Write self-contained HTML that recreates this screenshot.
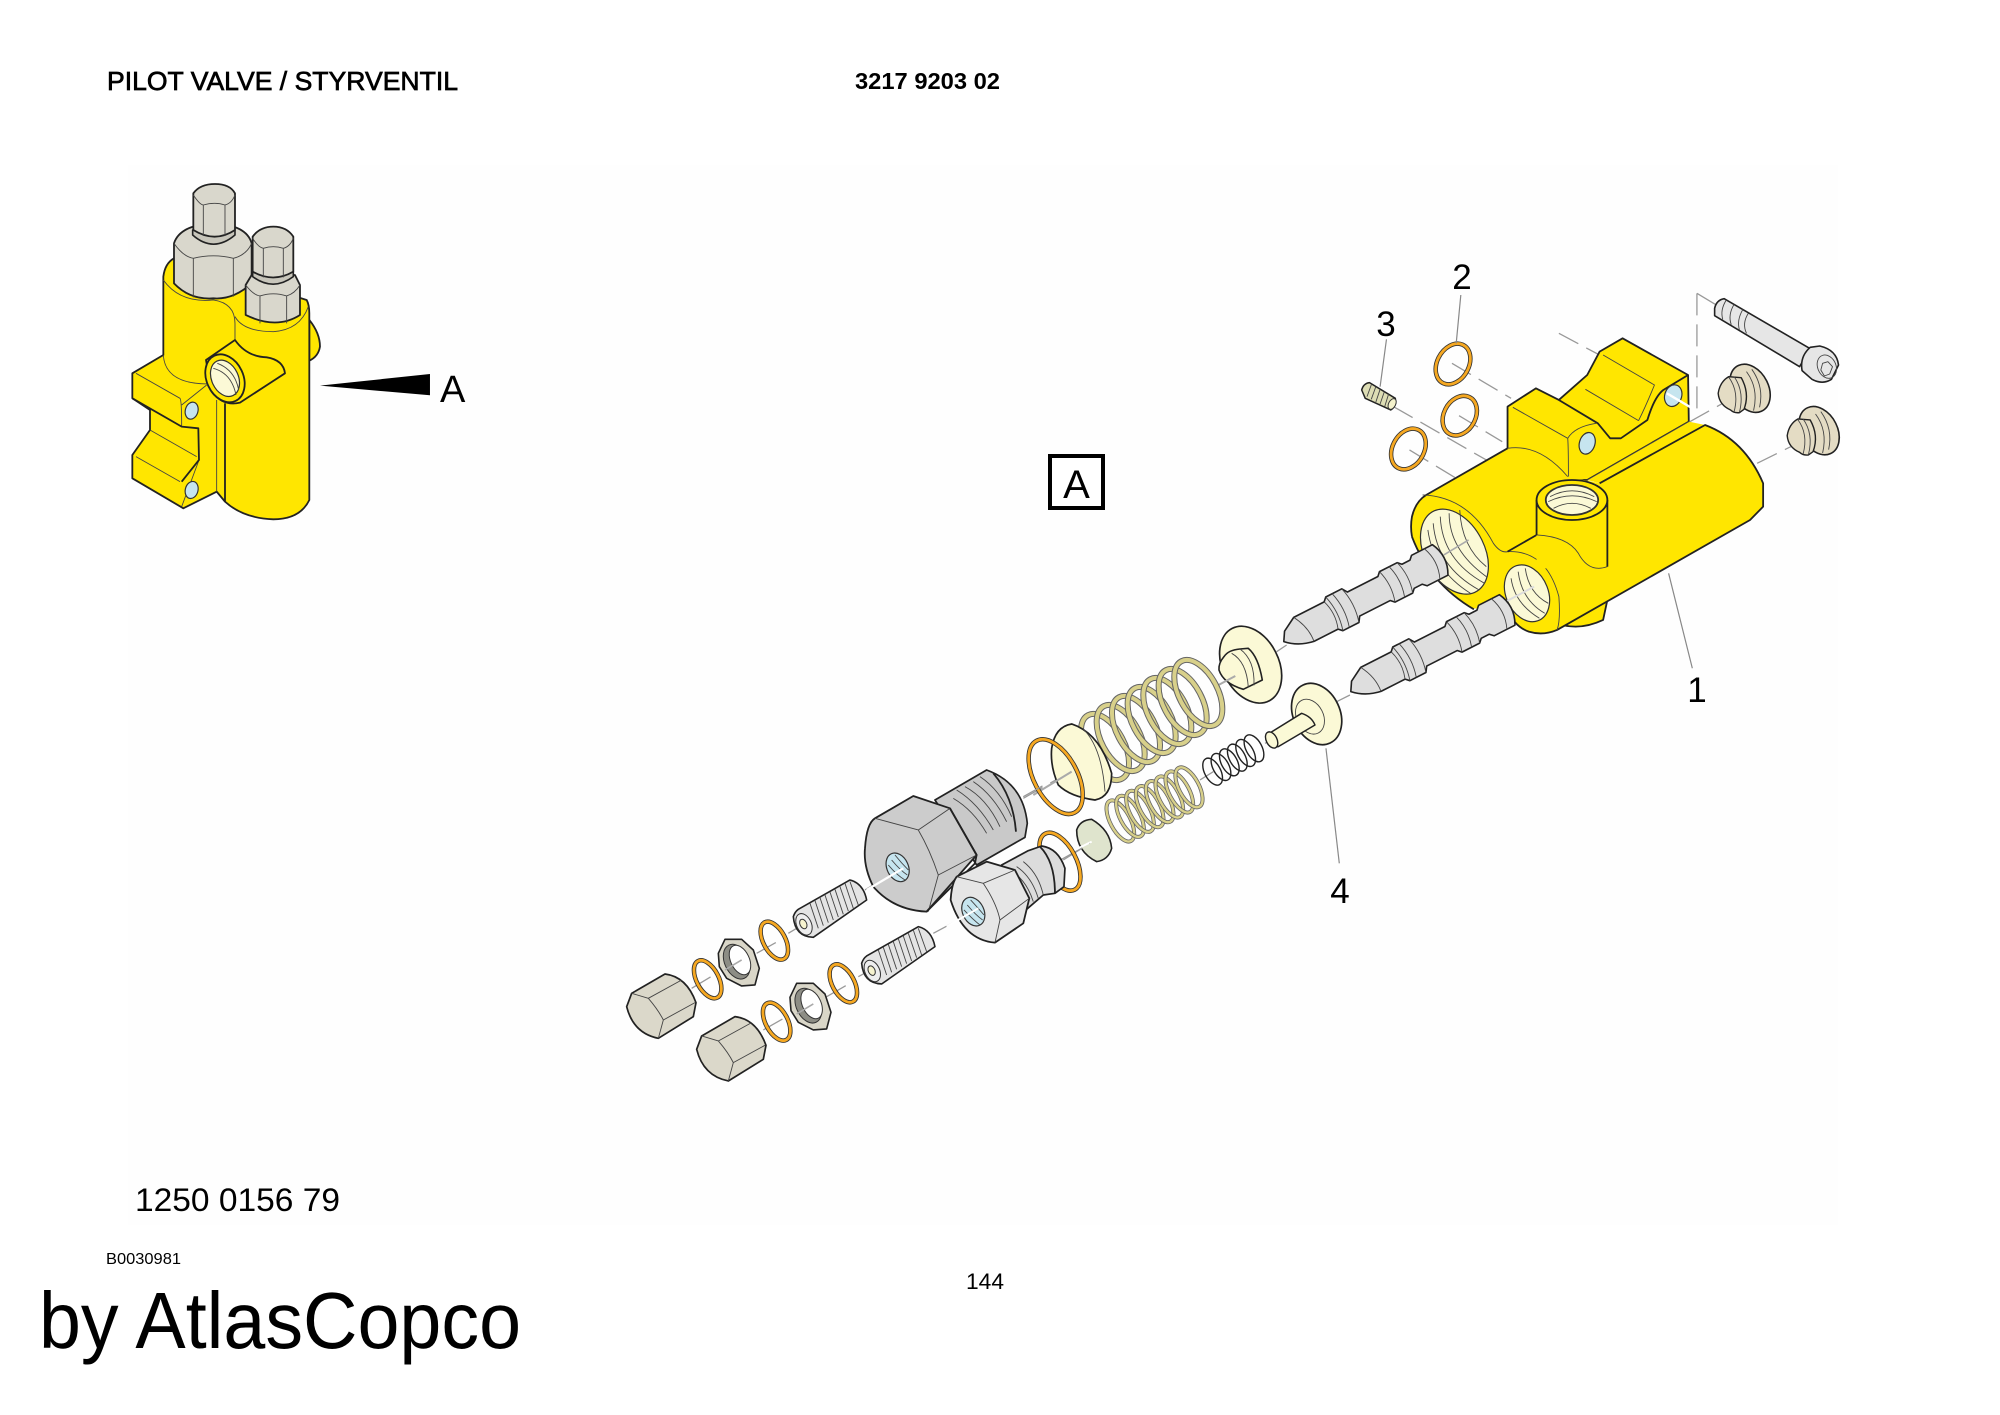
<!DOCTYPE html>
<html><head><meta charset="utf-8"><style>
html,body{margin:0;padding:0;background:#fff;width:2000px;height:1415px;overflow:hidden}
svg{display:block}
text{font-family:"Liberation Sans",sans-serif;fill:#000}
.k *{vector-effect:non-scaling-stroke;stroke-linejoin:round}
.o{fill:none;stroke:#222;stroke-width:1.8}
.t{fill:none;stroke:#444;stroke-width:.9}
.d{fill:none;stroke:#999;stroke-width:1.3;stroke-dasharray:22 9}
.l{fill:none;stroke:#888;stroke-width:1.2}
.y{fill:#ffe600;stroke:#222;stroke-width:1.8}
.c{fill:#fbf9d6;stroke:#333;stroke-width:1.2}
.h{fill:#c6e5ef;stroke:#333;stroke-width:1.2}
.rb{fill:none;stroke:#333;stroke-width:4.5}
.ro{fill:none;stroke:#f6a821;stroke-width:2.8}
.sb{fill:none;stroke:#666;stroke-width:6}
.sc{fill:none;stroke:#d8d08a;stroke-width:4}
.sb2{fill:none;stroke:#666;stroke-width:4}
.sc2{fill:none;stroke:#d8d08a;stroke-width:2.4}
</style></head><body>
<svg width="2000" height="1415" viewBox="0 0 2000 1415" xmlns="http://www.w3.org/2000/svg">
<rect width="2000" height="1415" fill="#fff"/>
<rect x="128" y="165" width="1710" height="1060" fill="#fefefe"/>

<!-- INSET -->
<g class="k" transform="translate(100 160) scale(.3333)">
<path class="y" d="M628,480 Q660,520 660,560 Q655,590 628,602Z"/>
<path class="y" d="M190,350 Q195,310 222,295 L620,420 Q628,435 628,460 L628,1020 Q600,1078 520,1078 Q430,1075 375,1025 L350,995 L250,1045 L97,955 L97,885 L150,810 L150,750 L97,715 L97,640 L190,585Z"/>
<path class="t" d="M190,360 Q240,430 340,420 Q405,430 405,490 L405,540"/>
<path class="t" d="M405,470 Q430,515 520,515 Q600,510 625,440"/>
<path class="t" d="M190,585 Q195,670 320,672"/>
<path class="t" d="M108,640 L240,715 Q245,720 245,800 M245,800 L295,805 L297,900 L245,1040 M150,810 L290,890 M108,890 L240,965 M245,735 L320,675 M350,720 L350,995"/>
<path class="o" d="M97,715 L245,800 L295,805 L297,900 L245,965"/>
<path class="o" d="M375,730 L375,1025"/>
<path class="y" d="M318,600 L405,540 Q440,590 500,592 Q550,600 555,640 L420,728 Q370,740 335,695Z"/>
<ellipse class="y" cx="375" cy="655" rx="55" ry="75" transform="rotate(-25 375 655)"/>
<ellipse class="c" cx="375" cy="655" rx="40" ry="57" transform="rotate(-25 375 655)"/>
<path class="t" d="M340,625 Q395,640 408,705 M352,610 Q405,630 416,690"/>
<ellipse class="h" cx="275" cy="752" rx="19" ry="26" transform="rotate(15 275 752)"/>
<ellipse class="h" cx="275" cy="990" rx="19" ry="26" transform="rotate(15 275 990)"/>
<path d="M222,250 Q240,195 340,190 Q440,195 455,250 L455,370 Q400,420 340,415 Q270,420 222,370Z" fill="#d9d7cc" stroke="#222" stroke-width="1.8"/>
<path class="t" d="M222,250 Q250,290 280,295 Q340,280 400,295 Q440,285 455,250 M280,295 L280,412 M400,295 L400,410"/>
<path d="M278,210 L278,225 Q340,280 405,225 L405,210Z" fill="#c8c6bb" stroke="#222" stroke-width="1.6"/>
<path d="M280,100 Q300,72 345,72 Q390,72 405,100 L405,210 Q345,250 280,210Z" fill="#d9d7cc" stroke="#222" stroke-width="1.8"/>
<path class="t" d="M280,105 Q300,135 310,135 Q345,125 375,135 Q395,130 405,105 M310,135 L310,228 M375,135 L375,228"/>
<path d="M437,375 L455,345 L585,345 L600,375 L600,465 Q530,510 437,465Z" fill="#d9d7cc" stroke="#222" stroke-width="1.8"/>
<path class="t" d="M437,375 Q460,405 480,408 Q520,395 560,408 Q585,400 600,375 M480,408 L480,490 M560,408 L560,490"/>
<path d="M458,335 L458,350 Q520,395 580,350 L580,335Z" fill="#c8c6bb" stroke="#222" stroke-width="1.6"/>
<path d="M458,230 Q480,200 520,200 Q560,200 580,230 L580,335 Q520,370 458,335Z" fill="#d9d7cc" stroke="#222" stroke-width="1.8"/>
<path class="t" d="M458,235 Q475,262 490,265 Q520,255 550,265 Q570,260 580,235 M490,265 L490,352 M550,265 L550,352"/>
<polygon points="660,677 990,642 990,706" fill="#000"/>
</g>

<!-- MAIN BODY -->
<g class="k" transform="translate(1327 250) scale(.354 .3333)">
<path class="d" d="M1045,130 L1045,480 M1045,130 L1100,165 M655,250 L770,315 M353,340 L520,445 M373,497 L495,575 M188,470 L450,630 M233,600 L365,685 M1025,515 L1135,450 M1215,640 L1310,590"/>
<path class="y" d="M510,470 L590,415 L655,450 L735,375 L770,305 L835,265 L1020,375 L1022,515 L735,690 L680,690 L510,600Z"/>
<path class="t" d="M525,472 L680,565 M680,565 Q682,590 682,680 M780,315 L925,405 Q900,470 880,512 M730,418 L880,512"/>
<path class="o" d="M655,450 L765,520 L800,565 L830,565 L905,510 Q925,440 950,420 L1020,375"/>
<path class="t" d="M680,565 Q700,530 760,520"/>
<polygon points="735,690 1022,515 1068,525 770,700" fill="#ffe600"/>
<!-- bump under body -->
<path d="M660,1128 Q720,1140 780,1110 L792,1040 L660,1040Z" fill="#ffe600"/>
<path class="o" d="M665,1125 Q720,1140 780,1110 L792,1050"/>
<!-- main cylinder -->
<path d="M240,800 Q250,755 280,735 L510,595 L680,680 L770,700 L1068,525 Q1180,570 1232,700 L1232,770 L1195,810 L650,1140 Q610,1158 570,1145 Q530,1130 510,1080 L410,1075 Q290,1000 240,860Z" fill="#ffe600"/>
<path d="M510,595 Q600,570 680,680 L510,680Z" fill="#ffe600"/>
<path class="t" d="M1022,515 L735,690"/>
<path class="o" d="M240,860 Q235,830 240,800 Q250,755 280,735 L510,595 M770,700 L1068,525 Q1180,570 1232,700 L1232,770 L1195,810 L650,1140 Q610,1158 570,1145 Q530,1130 510,1080 M415,1078 Q290,1000 240,860"/>
<path class="t" d="M270,735 Q400,740 470,880 Q490,910 510,905 M510,905 Q620,900 655,1040 Q660,1110 650,1140 M510,595 Q600,580 680,680"/>
<path class="o" d="M510,905 L592,855"/>
<rect x="592" y="750" width="200" height="205" fill="#ffe600"/>
<path class="t" d="M592,855 Q680,860 710,910 Q740,970 792,950" />
<path class="o" d="M592,750 L592,855 M792,750 L792,950"/>
<ellipse cx="692" cy="750" rx="100" ry="60" fill="#ffe600" stroke="#222" stroke-width="1.8"/>
<ellipse class="c" cx="692" cy="750" rx="74" ry="45" style="stroke-width:1.8"/>
<path class="t" d="M630,740 Q692,705 755,740 M625,755 Q692,720 762,755 M640,775 Q692,745 745,775"/>
<ellipse class="c" cx="360" cy="905" rx="85" ry="135" transform="rotate(-25 360 905)"/>
<path class="t" d="M300,820 Q310,950 430,1020 M320,800 Q325,930 445,1000 M345,790 Q345,900 450,980 M285,840 Q300,960 405,1030 M375,780 Q380,890 450,950"/>
<ellipse class="c" cx="565" cy="1030" rx="60" ry="88" transform="rotate(-20 565 1030)"/>
<path class="t" d="M520,985 Q530,1060 600,1105 M540,965 Q550,1050 615,1090 M560,955 Q570,1030 625,1060"/>
<ellipse class="h" cx="735" cy="580" rx="22" ry="33" transform="rotate(15 735 580)"/>
<ellipse class="h" cx="978" cy="437" rx="24" ry="33" transform="rotate(15 978 437)"/>
<line x1="960" y1="430" x2="1040" y2="480" stroke="#fff" stroke-width="2.4"/>
<line x1="330" y1="915" x2="400" y2="870" stroke="#aaa" stroke-width="1.6"/>
<line x1="505" y1="1055" x2="585" y2="1010" stroke="#ddd" stroke-width="2"/>
<g>
<ellipse class="rb" cx="356" cy="342" rx="45" ry="64" transform="rotate(25 356 342)"/><ellipse class="ro" cx="356" cy="342" rx="45" ry="64" transform="rotate(25 356 342)"/>
<ellipse class="rb" cx="375" cy="497" rx="45" ry="62" transform="rotate(25 375 497)"/><ellipse class="ro" cx="375" cy="497" rx="45" ry="62" transform="rotate(25 375 497)"/>
<ellipse class="rb" cx="230" cy="597" rx="45" ry="64" transform="rotate(25 230 597)"/><ellipse class="ro" cx="230" cy="597" rx="45" ry="64" transform="rotate(25 230 597)"/>
</g>
<g transform="translate(8 0)">
<path d="M90,420 Q95,400 112,398 L185,445 Q188,470 172,480 L100,445Z" fill="#ddddb4" stroke="#222" stroke-width="1.5"/>
<path class="t" d="M118,402 L105,440 M130,410 L117,448 M142,418 L130,456 M154,425 L142,462 M166,432 L155,470"/>
<ellipse cx="176" cy="462" rx="10" ry="17" fill="#f4f2cc" stroke="#333" transform="rotate(25 176 462)"/>
</g>
<path d="M1095,175 Q1100,150 1122,146 L1365,296 L1335,350 L1095,197Z" fill="#e6e6e6" stroke="#222" stroke-width="1.6"/>
<path class="t" d="M1128,150 Q1110,180 1118,208 M1150,163 Q1132,195 1142,224 M1175,178 Q1157,210 1165,240 M1190,190 Q1172,220 1185,250"/>
<path d="M1365,292 L1392,288 Q1440,300 1445,345 L1425,388 Q1400,405 1370,388 L1342,362 Q1335,320 1365,292Z" fill="#e6e6e6" stroke="#222" stroke-width="1.6"/>
<ellipse class="t" cx="1412" cy="350" rx="26" ry="36" transform="rotate(-20 1412 350)"/>
<polygon class="t" points="1400,340 1415,335 1428,350 1420,372 1405,378 1395,360"/>
<g id="plug">
<ellipse cx="1195" cy="415" rx="52" ry="76" transform="rotate(-25 1195 415)" fill="#e4dcc4" stroke="#222" stroke-width="1.6"/>
<path class="t" d="M1185,365 Q1220,415 1205,482 M1200,358 Q1235,410 1222,472"/>
<path d="M1105,430 Q1110,395 1135,380 L1170,383 Q1195,430 1178,478 L1165,488 Q1150,490 1140,480 Q1108,465 1105,430Z" fill="#e4dcc4" stroke="#222" stroke-width="1.4"/>
<path class="t" d="M1135,382 Q1165,425 1150,485 M1150,380 Q1180,425 1165,487"/>
</g>
<use href="#plug" x="195" y="127"/>
<path class="l" d="M378,135 L365,280 M168,268 L150,410 M965,970 L1032,1255"/>
</g>

<!-- SPOOLS -->
<g class="k" transform="translate(1283 640) rotate(-27) scale(.9)">
<g id="spool">
<path d="M0,2 L6,-8 L22,-17 L60,-17 L64,-21 L84,-21 L88,-15 L126,-15 L130,-19 L152,-19 L156,-15 L166,-15 L170,-19 L196,-19 Q206,0 196,19 L170,19 L166,15 L156,15 L152,19 L130,19 L126,15 L88,15 L84,21 L64,21 L60,17 L30,17 Q12,14 0,2Z" fill="#dedede" stroke="#222" stroke-width="1.6"/>
<path class="t" d="M22,-17 Q32,0 30,17 M60,-17 Q66,0 60,17 M64,-21 Q70,0 64,21 M72,-21 Q78,0 72,21 M84,-21 Q90,0 84,21 M130,-19 Q136,0 130,19 M142,-19 Q148,0 142,19 M152,-19 Q158,0 152,19 M186,-19 Q194,0 186,19"/>
</g>
</g>
<g class="k" transform="translate(1350 690) rotate(-27) scale(.9)"><use href="#spool"/></g>

<!-- MIDDLE PARTS -->
<g class="k" transform="translate(1000 600) scale(.3333)">
<path class="d" d="M830,155 L860,135 M1010,305 L1050,285 M650,258 L710,225 M600,540 L640,515 M70,595 L220,510 M185,778 L280,725 M795,430 L815,420"/>
<!-- upper retainer -->
<ellipse class="c" cx="752" cy="194" rx="84" ry="122" transform="rotate(-27 752 194)" style="stroke:#222;stroke-width:1.7"/>
<path class="c" d="M672,170 Q685,150 720,147 L745,145 Q775,170 787,240 L730,268 Q670,250 657,210 Q655,190 672,170Z" style="stroke:#222;stroke-width:1.6"/>
<path class="t" d="M695,160 Q740,185 745,262 M720,147 Q765,180 762,256"/>
<line x1="650" y1="258" x2="706" y2="228" stroke="#aaa" stroke-width="2"/>
<!-- big spring -->
<g id="bigspring">
<ellipse class="sb" cx="315" cy="441" rx="58" ry="108" transform="rotate(-28 315 441)"/><ellipse class="sc" cx="315" cy="441" rx="58" ry="108" transform="rotate(-28 315 441)"/>
<ellipse class="sb" cx="362" cy="414" rx="58" ry="108" transform="rotate(-28 362 414)"/><ellipse class="sc" cx="362" cy="414" rx="58" ry="108" transform="rotate(-28 362 414)"/>
<ellipse class="sb" cx="408" cy="387" rx="58" ry="108" transform="rotate(-28 408 387)"/><ellipse class="sc" cx="408" cy="387" rx="58" ry="108" transform="rotate(-28 408 387)"/>
<ellipse class="sb" cx="455" cy="360" rx="58" ry="108" transform="rotate(-28 455 360)"/><ellipse class="sc" cx="455" cy="360" rx="58" ry="108" transform="rotate(-28 455 360)"/>
<ellipse class="sb" cx="502" cy="333" rx="58" ry="108" transform="rotate(-28 502 333)"/><ellipse class="sc" cx="502" cy="333" rx="58" ry="108" transform="rotate(-28 502 333)"/>
<ellipse class="sb" cx="548" cy="306" rx="58" ry="108" transform="rotate(-28 548 306)"/><ellipse class="sc" cx="548" cy="306" rx="58" ry="108" transform="rotate(-28 548 306)"/>
<ellipse class="sb" cx="595" cy="279" rx="58" ry="108" transform="rotate(-28 595 279)"/><ellipse class="sc" cx="595" cy="279" rx="58" ry="108" transform="rotate(-28 595 279)"/>
</g>
<!-- cap -->
<path class="c" d="M155,445 Q165,380 215,372 Q300,400 335,520 Q335,590 285,600 Q210,590 175,555 Q150,500 155,445Z" style="stroke:#222;stroke-width:1.7"/>
<path class="t" d="M248,385 Q305,440 315,575"/>
<line x1="100" y1="585" x2="215" y2="515" stroke="#aaa" stroke-width="2" />
<ellipse class="rb" cx="167" cy="530" rx="65" ry="122" transform="rotate(-28 167 530)"/><ellipse class="ro" cx="167" cy="530" rx="65" ry="122" transform="rotate(-28 167 530)"/>
<!-- lower spring -->
<g>
<ellipse class="sb2" cx="361" cy="663" rx="30" ry="68" transform="rotate(-28 361 663)"/><ellipse class="sc2" cx="361" cy="663" rx="30" ry="68" transform="rotate(-28 361 663)"/>
<ellipse class="sb2" cx="390" cy="649" rx="30" ry="68" transform="rotate(-28 390 649)"/><ellipse class="sc2" cx="390" cy="649" rx="30" ry="68" transform="rotate(-28 390 649)"/>
<ellipse class="sb2" cx="420" cy="634" rx="30" ry="68" transform="rotate(-28 420 634)"/><ellipse class="sc2" cx="420" cy="634" rx="30" ry="68" transform="rotate(-28 420 634)"/>
<ellipse class="sb2" cx="449" cy="620" rx="30" ry="68" transform="rotate(-28 449 620)"/><ellipse class="sc2" cx="449" cy="620" rx="30" ry="68" transform="rotate(-28 449 620)"/>
<ellipse class="sb2" cx="479" cy="605" rx="30" ry="68" transform="rotate(-28 479 605)"/><ellipse class="sc2" cx="479" cy="605" rx="30" ry="68" transform="rotate(-28 479 605)"/>
<ellipse class="sb2" cx="508" cy="591" rx="30" ry="68" transform="rotate(-28 508 591)"/><ellipse class="sc2" cx="508" cy="591" rx="30" ry="68" transform="rotate(-28 508 591)"/>
<ellipse class="sb2" cx="538" cy="576" rx="30" ry="68" transform="rotate(-28 538 576)"/><ellipse class="sc2" cx="538" cy="576" rx="30" ry="68" transform="rotate(-28 538 576)"/>
<ellipse class="sb2" cx="567" cy="562" rx="30" ry="66" transform="rotate(-28 567 562)"/><ellipse class="sc2" cx="567" cy="562" rx="30" ry="66" transform="rotate(-28 567 562)"/>
</g>
<!-- black spring -->
<g fill="none" stroke="#222" stroke-width="1.4">
<ellipse cx="638" cy="515" rx="24" ry="44" transform="rotate(-28 638 515)"/>
<ellipse cx="663" cy="501" rx="24" ry="44" transform="rotate(-28 663 501)"/>
<ellipse cx="688" cy="487" rx="24" ry="44" transform="rotate(-28 688 487)"/>
<ellipse cx="712" cy="473" rx="24" ry="44" transform="rotate(-28 712 473)"/>
<ellipse cx="737" cy="459" rx="24" ry="44" transform="rotate(-28 737 459)"/>
<ellipse cx="762" cy="445" rx="24" ry="44" transform="rotate(-28 762 445)"/>
</g>
<!-- retainer 4 -->
<ellipse class="c" cx="950" cy="342" rx="70" ry="96" transform="rotate(-25 950 342)" style="stroke:#222;stroke-width:1.7"/>
<ellipse class="t" cx="930" cy="350" rx="40" ry="55" transform="rotate(-27 930 350)"/>
<path class="c" d="M800,405 L905,340 Q935,350 945,375 L835,440 Q800,445 800,405Z" style="stroke:#222;stroke-width:1.5"/>
<ellipse class="c" cx="815" cy="420" rx="16" ry="26" transform="rotate(-27 815 420)" style="stroke:#222;stroke-width:1.4"/>
<!-- small disk -->
<path d="M230,690 Q240,660 275,658 Q330,690 335,745 Q325,780 290,785 Q230,755 230,690Z" fill="#dfe4cd" stroke="#222" stroke-width="1.6"/>
<line x1="215" y1="755" x2="275" y2="725" stroke="#fff" stroke-width="2"/>
<!-- leader 4 -->
<path class="l" d="M978,445 L1018,790"/>
</g>

<!-- FITTINGS etc -->
<g class="k" transform="translate(610 780) scale(.3333)">
<path class="d" d="M535,460 L585,430 M440,520 L520,475 M245,625 L320,580 M345,570 L395,540 M765,330 L860,272 M970,460 L1110,385 M745,590 L800,560 M650,650 L720,610 M460,750 L530,710 M560,690 L610,665 M1240,50 L1320,5 M1360,240 L1440,190"/>
<!-- big threaded -->
<path d="M975,60 L1130,-30 Q1240,10 1252,130 L1245,172 L1100,255Z" fill="#c9c9c9" stroke="#222" stroke-width="1.7"/>
<path class="t" d="M1030,55 Q1090,90 1130,160 M1040,30 Q1105,70 1150,150 M1065,20 Q1130,55 1170,140 M1090,5 Q1150,45 1190,125 M1110,-10 Q1170,30 1205,110"/>
<path class="o" d="M1150,-20 Q1210,50 1218,155"/>
<!-- big hex -->
<path d="M765,205 Q770,130 795,115 L910,48 L1020,85 L1100,225 L950,395 Q850,390 790,320 Q760,260 765,205Z" fill="#ccc" stroke="#222" stroke-width="1.8"/>
<path class="t" d="M795,115 Q870,135 925,150 L1020,85 M925,150 Q960,210 985,285 L1100,225 M985,285 L955,395"/>
<path class="o" d="M1020,85 L1100,225 L1095,250 L950,395"/>
<ellipse class="h" cx="863" cy="262" rx="32" ry="45" transform="rotate(-25 863 262)"/>
<path class="t" d="M835,255 Q860,285 885,300 M845,240 Q870,270 892,285 M855,225 Q875,250 895,270"/>
<line x1="770" y1="330" x2="880" y2="265" stroke="#fff" stroke-width="2.2"/>
<!-- ring lower right (behind) -->
<ellipse class="rb" cx="1350" cy="245" rx="48" ry="95" transform="rotate(-28 1350 245)"/><ellipse class="ro" cx="1350" cy="245" rx="48" ry="95" transform="rotate(-28 1350 245)"/>
<!-- small threaded + collar -->
<path d="M1175,255 L1255,212 L1295,198 Q1345,205 1365,265 L1362,320 L1335,340 L1300,345 L1250,388Z" fill="#dcdcdc" stroke="#222" stroke-width="1.7"/>
<path class="t" d="M1200,270 Q1250,300 1270,365 M1220,260 Q1265,290 1285,355 M1240,245 Q1285,280 1300,345"/>
<path class="o" d="M1290,200 Q1335,245 1335,340"/>
<!-- small hex -->
<path d="M1022,360 Q1025,310 1040,290 L1130,245 L1215,270 L1258,355 L1240,430 L1155,488 Q1060,480 1022,360Z" fill="#e6e6e6" stroke="#222" stroke-width="1.8"/>
<path class="t" d="M1040,290 L1120,310 L1215,270 M1120,310 Q1160,370 1170,420 L1258,355 M1170,420 L1155,488"/>
<ellipse class="h" cx="1090" cy="395" rx="32" ry="45" transform="rotate(-25 1090 395)"/>
<path class="t" d="M1062,390 Q1090,420 1110,435 M1072,375 Q1097,405 1118,420 M1082,360 Q1105,385 1122,405"/>
<line x1="1010" y1="440" x2="1105" y2="385" stroke="#fff" stroke-width="2"/>
<!-- screws -->
<g id="scr">
<path d="M550,410 Q555,395 565,388 L720,300 Q760,310 770,360 L610,472 Q555,470 550,410Z" fill="#e4e4e4" stroke="#222" stroke-width="1.6"/>
<path class="t" d="M600,370 L625,445 M615,362 L640,437 M630,353 L655,428 M645,345 L670,420 M660,336 L685,411 M675,328 L700,403 M690,320 L715,393 M705,310 L730,385 M720,305 L745,375"/>
<ellipse cx="582" cy="433" rx="22" ry="34" transform="rotate(-25 582 433)" fill="#eee" stroke="#333"/>
<ellipse cx="580" cy="432" rx="10" ry="15" transform="rotate(-25 580 432)" fill="#f6f3cf" stroke="#333"/>
</g>
<use href="#scr" x="205" y="140"/>
<!-- small rings -->
<ellipse class="rb" cx="493" cy="482" rx="33" ry="62" transform="rotate(-28 493 482)"/><ellipse class="ro" cx="493" cy="482" rx="33" ry="62" transform="rotate(-28 493 482)"/>
<ellipse class="rb" cx="293" cy="598" rx="33" ry="62" transform="rotate(-28 293 598)"/><ellipse class="ro" cx="293" cy="598" rx="33" ry="62" transform="rotate(-28 293 598)"/>
<ellipse class="rb" cx="700" cy="610" rx="33" ry="62" transform="rotate(-28 700 610)"/><ellipse class="ro" cx="700" cy="610" rx="33" ry="62" transform="rotate(-28 700 610)"/>
<ellipse class="rb" cx="500" cy="725" rx="33" ry="62" transform="rotate(-28 500 725)"/><ellipse class="ro" cx="500" cy="725" rx="33" ry="62" transform="rotate(-28 500 725)"/>
<!-- locknuts -->
<g id="ln">
<path d="M325,520 L345,478 L395,478 L430,510 L448,565 L435,615 L395,618 L350,595 L328,560Z" fill="#d9d6c8" stroke="#222" stroke-width="1.6"/>
<ellipse cx="380" cy="545" rx="36" ry="55" transform="rotate(-25 380 545)" fill="#8d8d85" stroke="#333"/>
<ellipse cx="390" cy="540" rx="28" ry="47" transform="rotate(-25 390 540)" fill="#fff" stroke="#333"/>
</g>
<use href="#ln" x="215" y="132"/>
<line x1="345" y1="570" x2="395" y2="540" stroke="#aaa" stroke-width="1.6"/>
<line x1="560" y1="702" x2="610" y2="672" stroke="#aaa" stroke-width="1.6"/>
<!-- end caps -->
<g id="cap">
<path d="M50,680 L65,640 L165,582 Q230,590 258,668 L250,710 L145,775 Q70,760 50,680Z" fill="#dbd8ca" stroke="#222" stroke-width="1.7"/>
<path class="t" d="M65,640 L115,655 L215,600 M115,655 Q145,690 160,720 L255,668 M160,720 L145,775"/>
</g>
<use href="#cap" x="210" y="128"/>
</g>

<!-- TEXT -->
<text x="107" y="90" font-size="26" textLength="351" lengthAdjust="spacingAndGlyphs" stroke="#000" stroke-width=".7">PILOT VALVE / STYRVENTIL</text>
<text x="855" y="89" font-size="23" font-weight="bold" textLength="145" lengthAdjust="spacingAndGlyphs">3217 9203 02</text>
<text x="135" y="1211" font-size="32" textLength="205" lengthAdjust="spacingAndGlyphs">1250 0156 79</text>
<text x="106" y="1264" font-size="16" textLength="75" lengthAdjust="spacingAndGlyphs">B0030981</text>
<text x="966" y="1289" font-size="22" textLength="38" lengthAdjust="spacingAndGlyphs">144</text>
<text x="39" y="1348" font-size="80" textLength="482" lengthAdjust="spacingAndGlyphs">by AtlasCopco</text>
<text x="440" y="402" font-size="38">A</text>
<rect x="1050" y="456" width="53" height="52" fill="#fff" stroke="#000" stroke-width="4"/>
<text x="1076.500" y="498" font-size="40" text-anchor="middle">A</text>
<text x="1462" y="289" font-size="35" text-anchor="middle">2</text>
<text x="1386" y="336" font-size="35" text-anchor="middle">3</text>
<text x="1697" y="702" font-size="35" text-anchor="middle">1</text>
<text x="1340" y="903" font-size="35" text-anchor="middle">4</text>
</svg>
</body></html>
